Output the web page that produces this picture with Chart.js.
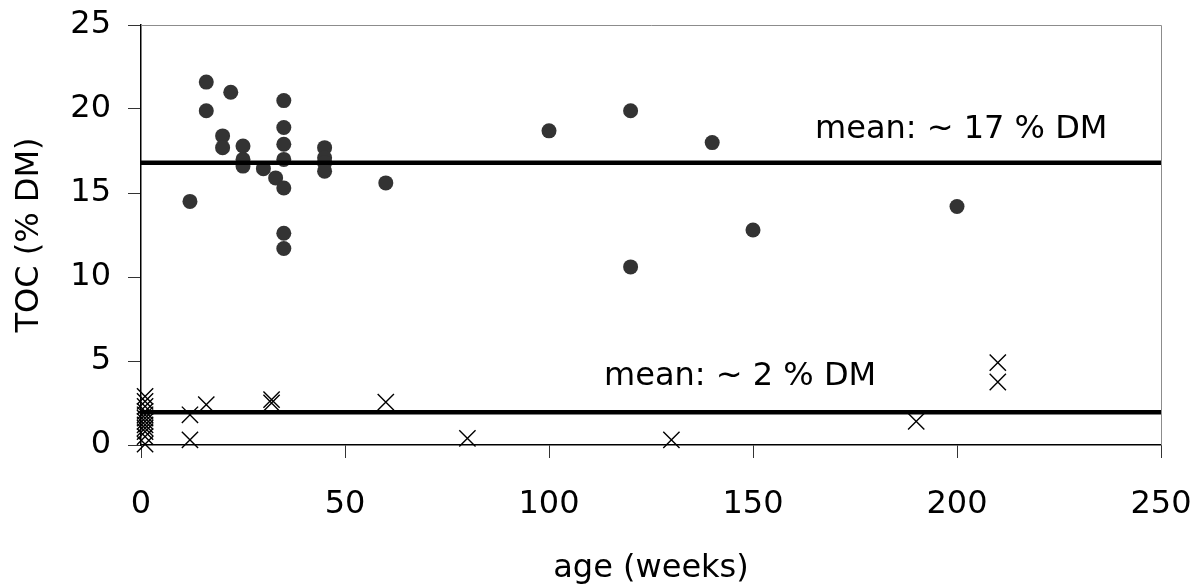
<!DOCTYPE html>
<html>
<head>
<meta charset="utf-8">
<script src="https://cdn.jsdelivr.net/npm/chart.js@4/dist/chart.umd.min.js"></script>
<style>
  body { margin: 0; background: #fff; }
  canvas { display: block; }
</style>
</head>
<body>
<canvas id="tocChart" width="1196" height="588"></canvas>
<script>
// high TOC samples (dots)
const dotAge = [12, 16, 16, 20, 20, 22, 25, 25, 25, 30, 33, 35, 35, 35, 35, 35, 35, 35, 45, 45, 45, 45, 60, 100, 120, 120, 140, 150, 200];
const dotToc = [14.5, 21.6, 19.9, 18.4, 17.7, 21.0, 17.8, 17.0, 16.6, 16.45, 15.9, 20.5, 18.9, 17.9, 17.0, 15.3, 12.6, 11.7, 17.7, 17.1, 16.8, 16.3, 15.6, 18.7, 19.9, 10.6, 18.0, 12.8, 14.2];

// low TOC samples (crosses)
const crossAge = [1, 1, 1, 1, 1, 1, 1, 1, 1, 1, 1, 1, 12, 12, 16, 32, 32, 60, 80, 130, 190, 210, 210];
const crossToc = [2.9, 2.6, 2.3, 2.0, 1.8, 1.6, 1.4, 1.2, 1.0, 0.8, 0.5, 0.05, 1.8, 0.3, 2.4, 2.5, 2.7, 2.55, 0.4, 0.3, 1.4, 4.9, 3.75];

// mean lines
const meanAge = [0, 250];
const meanHigh = 16.8;
const meanLow = 1.95;

// mean labels: text, x (weeks) of left edge, y (% DM) of baseline
const meanLabels = ['mean: ~ 17 % DM', 'mean: ~ 2 % DM'];
const meanLabelAge = [165.2, 113.5];
const meanLabelToc = [18.26, 3.55];

const xTicks = [0, 50, 100, 150, 200, 250];
const yTicks = [0, 5, 10, 15, 20, 25];

const FONT = '"DejaVu Sans", sans-serif';
Chart.defaults.font.family = FONT;
Chart.defaults.font.size = 32;
Chart.defaults.color = '#000';

const toXY = (xs, ys) => xs.map((x, i) => ({x: x, y: ys[i]}));

// no extra room for overflowing tick labels, the layout padding fixes the plot box
const noLabelPad = s => {
    s.paddingTop = 0; s.paddingBottom = 0; s.paddingLeft = 0; s.paddingRight = 0;
};

const plotFrame = {
    id: 'plotFrame',
    beforeDatasetsDraw(chart) {
        const {ctx, chartArea: a} = chart;
        ctx.save();
        ctx.strokeStyle = '#8c8c8c';
        ctx.lineWidth = 1;
        ctx.beginPath();
        ctx.moveTo(a.left, a.top + 0.5);
        ctx.lineTo(a.right + 0.5, a.top + 0.5);
        ctx.lineTo(a.right + 0.5, a.bottom);
        ctx.stroke();
        ctx.restore();
    }
};

const meanText = {
    id: 'meanText',
    afterDatasetsDraw(chart) {
        const ctx = chart.ctx;
        const xs = chart.scales.x, ys = chart.scales.y;
        ctx.save();
        ctx.font = '32px ' + FONT;
        ctx.fillStyle = '#000';
        ctx.textAlign = 'left';
        ctx.textBaseline = 'alphabetic';
        meanLabels.forEach((t, i) => {
            ctx.fillText(t, xs.getPixelForValue(meanLabelAge[i]), ys.getPixelForValue(meanLabelToc[i]));
        });
        ctx.restore();
    }
};

new Chart(document.getElementById('tocChart').getContext('2d'), {
    type: 'scatter',
    data: {
        datasets: [
            {
                label: 'mean high',
                data: toXY(meanAge, [meanHigh, meanHigh]),
                showLine: true,
                borderColor: '#000',
                borderWidth: 4.5,
                pointRadius: 0,
                order: 0
            },
            {
                label: 'mean low',
                data: toXY(meanAge, [meanLow, meanLow]),
                showLine: true,
                borderColor: '#000',
                borderWidth: 4.5,
                pointRadius: 0,
                order: 0
            },
            {
                label: 'TOC high',
                data: toXY(dotAge, dotToc),
                pointStyle: 'circle',
                pointRadius: 7.5,
                backgroundColor: '#333',
                borderColor: '#333',
                borderWidth: 0,
                clip: false,
                order: 1
            },
            {
                label: 'TOC low',
                data: toXY(crossAge, crossToc),
                pointStyle: 'crossRot',
                pointRadius: 11.5,
                borderColor: '#000',
                borderWidth: 1.4,
                clip: false,
                order: 1
            }
        ]
    },
    options: {
        responsive: false,
        animation: false,
        layout: { padding: { top: 25, right: 35, left: 0, bottom: 0 } },
        plugins: {
            legend: { display: false },
            tooltip: { enabled: false }
        },
        scales: {
            x: {
                type: 'linear',
                min: 0,
                max: 250,
                afterBuildTicks: s => { s.ticks = xTicks.map(v => ({value: v})); },
                afterFit: s => { s.height = 143; noLabelPad(s); },
                grid: { drawOnChartArea: false, drawTicks: true, tickLength: 13, color: '#333', lineWidth: 1 },
                border: { color: '#000', width: 1.5 },
                ticks: { padding: 27, maxRotation: 0 },
                title: { display: true, text: 'age (weeks)', padding: { top: 0, bottom: 0 } }
            },
            y: {
                min: 0,
                max: 25,
                afterBuildTicks: s => { s.ticks = yTicks.map(v => ({value: v})); },
                afterFit: s => { s.width = 141; noLabelPad(s); },
                grid: { drawOnChartArea: false, drawTicks: true, tickLength: 13, color: '#333', lineWidth: 1 },
                border: { color: '#000', width: 1.5 },
                ticks: { padding: 17 },
                title: { display: true, text: 'TOC (% DM)', padding: { top: 10, bottom: 0 } }
            }
        }
    },
    plugins: [plotFrame, meanText]
});
</script>
</body>
</html>
